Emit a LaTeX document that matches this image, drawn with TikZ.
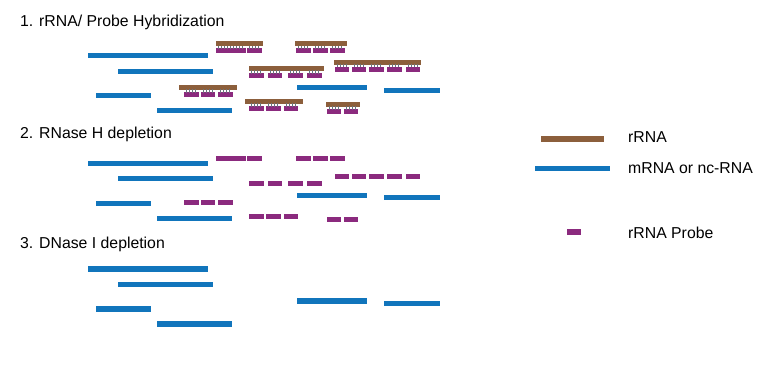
\documentclass[tikz,border=0pt]{standalone}
\usepackage{fontspec}
\setmainfont{Liberation Sans}
\definecolor{mrnac}{RGB}{17,117,188}
\definecolor{rrnac}{RGB}{140,95,60}
\definecolor{probec}{RGB}{139,42,126}
\definecolor{tickc}{RGB}{105,115,125}
\newcommand\myrrna[3]{\fill[rrnac] (#1,#3) rectangle (#2,#3+4.7);}
\newcommand\myprobe[3]{%
  \fill[probec] (#1,#3) rectangle (#2,#3+5);
  \pgfmathsetmacro\tend{#2-#1-1.5}
  \foreach \t in {2,5,...,\tend} \draw[tickc, line width=0.7pt] (#1+\t,#3-2.6) -- (#1+\t,#3+0.6);
}
\newcommand\myplainprobe[3]{\fill[probec] (#1,#3) rectangle (#2,#3+5);}
\newcommand\mybar[3]{\fill[mrnac] (#1,#3) rectangle (#2,#3+5.3);}
\begin{document}
\begin{tikzpicture}[x=1pt,y=-1pt,
  lbl/.style={anchor=base west, inner sep=0pt, font=\fontsize{15.8}{18}\selectfont, text=black}]
\useasboundingbox (0,0) rectangle (781,367);
% titles
\node[lbl] (t1) at (20,26.7) {1. rRNA/ Probe Hybridization};
\node[lbl] (t2) at (20,138.3) {2. RNase H depletion};
\node[lbl] (t3) at (20,248.3) {3. DNase I depletion};
% mRNA bars in all three sections
\foreach \dy in {0,107.5,213.3}{
  \mybar{88}{208}{53+\dy}
  \mybar{118}{213}{68.5+\dy}
  \mybar{96}{151}{93+\dy}
  \mybar{157}{232}{108+\dy}
  \mybar{297}{367}{85+\dy}
  \mybar{384}{440}{87.5+\dy}
}
% section 1: rRNA with probes
\myrrna{216}{263}{41}
\myprobe{216}{246}{48.3}\myprobe{247}{262}{48.3}
\myrrna{295}{347}{41}
\myprobe{296}{311}{48.3}\myprobe{313}{328}{48.3}\myprobe{330}{345}{48.3}
\myrrna{334}{421}{60}
\myprobe{335}{349}{66.5}\myprobe{352}{366}{66.5}\myprobe{369}{384}{66.5}\myprobe{387}{402}{66.5}\myprobe{406}{420}{66.5}
\myrrna{249}{324}{66}
\myprobe{249}{264}{73}\myprobe{268}{282}{73}\myprobe{288}{303}{73}\myprobe{307}{322}{73}
\myrrna{179}{237}{85}
\myprobe{184}{199}{92}\myprobe{201}{215}{92}\myprobe{218}{233}{92}
\myrrna{245}{303}{99}
\myprobe{249}{264}{106}\myprobe{266}{281}{106}\myprobe{284}{298}{106}
\myrrna{326}{360}{102}
\myprobe{327}{341}{109}\myprobe{344}{358}{109}
% section 2: probes only
\myplainprobe{216}{246}{156}\myplainprobe{247}{262}{156}
\myplainprobe{296}{311}{156}\myplainprobe{313}{328}{156}\myplainprobe{330}{345}{156}
\myplainprobe{335}{349}{174}\myplainprobe{352}{366}{174}\myplainprobe{369}{384}{174}\myplainprobe{387}{402}{174}\myplainprobe{406}{420}{174}
\myplainprobe{249}{264}{181}\myplainprobe{268}{282}{181}\myplainprobe{288}{303}{181}\myplainprobe{307}{322}{181}
\myplainprobe{184}{199}{200}\myplainprobe{201}{215}{200}\myplainprobe{218}{233}{200}
\myplainprobe{249}{264}{214}\myplainprobe{266}{281}{214}\myplainprobe{284}{298}{214}
\myplainprobe{327}{341}{217}\myplainprobe{344}{358}{217}
% legend
\fill[rrnac] (541,136) rectangle (604,141.8);
\node[lbl] (l1) at (628,142) {rRNA};
\fill[mrnac] (535,165.8) rectangle (610,171);
\node[lbl] (l2) at (628,173) {mRNA or nc-RNA};
\fill[probec] (567,229) rectangle (581,235);
\node[lbl] (l3) at (628,238) {rRNA Probe};
\end{tikzpicture}
\end{document}
